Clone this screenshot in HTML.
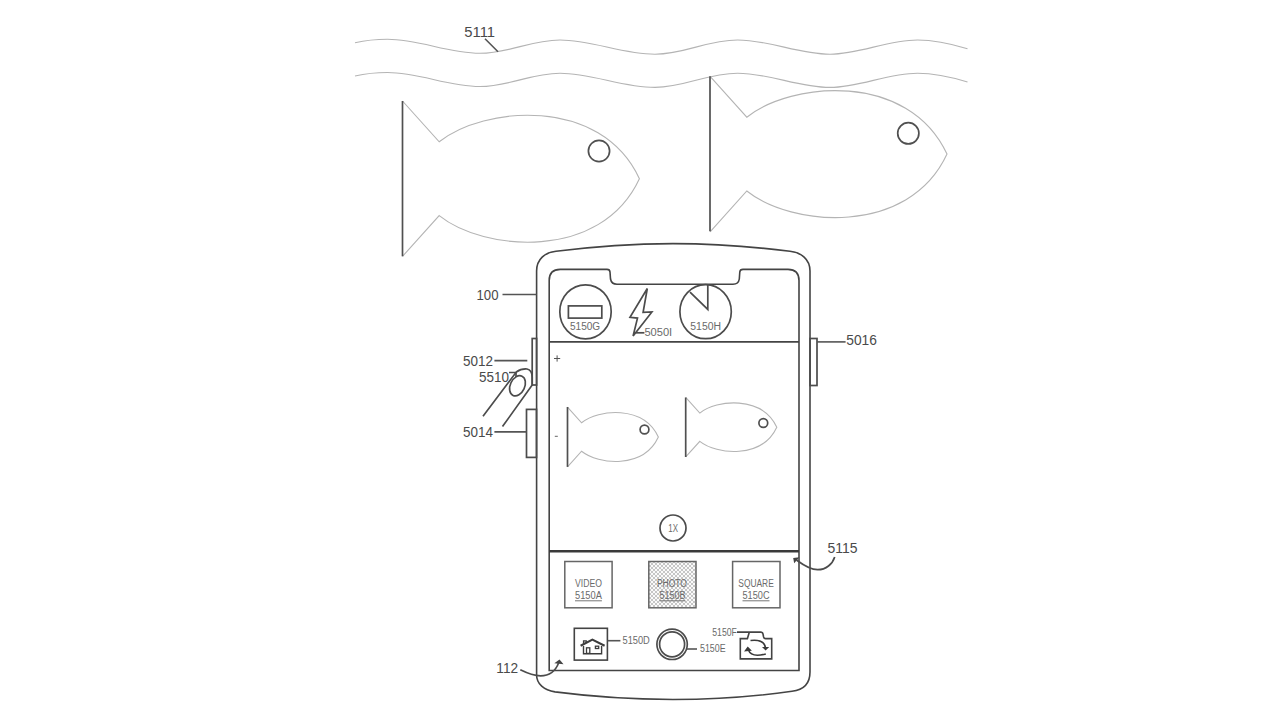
<!DOCTYPE html>
<html><head><meta charset="utf-8">
<style>
html,body{margin:0;padding:0;background:#fff;}
body{width:1280px;height:720px;overflow:hidden;font-family:"Liberation Sans",sans-serif;}
svg{display:block}
text{font-family:"Liberation Sans",sans-serif;}
.lbl{font-size:14px;fill:#4a4a4a;}
.sm{font-size:10px;fill:#6a6a6a;}
.dk{stroke:#444;fill:none;stroke-width:1.6;}
.md{stroke:#4c4c4c;fill:none;stroke-width:1.7;}
.fv{stroke:#505050;fill:none;stroke-width:1.7;}
.ey{stroke:#505050;fill:none;stroke-width:1.7;}
.lt{stroke:#b4b4b4;fill:none;stroke-width:1.1;}
.ld{stroke:#555;fill:none;stroke-width:1.6;}
</style></head><body>
<svg width="1280" height="720" viewBox="0 0 1280 720">
<defs>
<pattern id="hatch" width="4" height="4" patternUnits="userSpaceOnUse">
<rect width="4" height="4" fill="#fafafa"/>
<path d="M0,0 L4,4 M4,0 L0,4" stroke="#a6a6a6" stroke-width="0.62"/>
</pattern>
<path id="fish" vector-effect="non-scaling-stroke" d="M0,-77.7 L36.7,-36.9 C80.6,-72.2 198.2,-83.4 236.9,0 C198.2,83.4 80.6,72.2 36.7,36.9 L0,77.7"/>
</defs>
<rect width="1280" height="720" fill="#fff"/>

<!-- waves -->
<g class="lt">
<path id="wv" d="M355,42.8 C365,40.5 376,39.3 387.5,39.3 C420,39.3 447,53.3 480,53.3 C510,53.3 530,40 560,40 C592,40 622,54.2 655,54.2 C685,54.2 707,40 737.5,40 C770,40 798,54.2 830,54.2 C860,54.2 887,40 917.5,40 C935,40 952,44 967.5,48.75"/>
<path d="M355,42.8 C365,40.5 376,39.3 387.5,39.3 C420,39.3 447,53.3 480,53.3 C510,53.3 530,40 560,40 C592,40 622,54.2 655,54.2 C685,54.2 707,40 737.5,40 C770,40 798,54.2 830,54.2 C860,54.2 887,40 917.5,40 C935,40 952,44 967.5,48.75" transform="translate(0,33.2)"/>
</g>

<!-- big fish 1 -->
<use href="#fish" class="lt" transform="translate(402.5,178.7)"/>
<line x1="402.5" y1="101" x2="402.5" y2="256.3" class="fv"/>
<circle cx="599" cy="151" r="10.6" class="ey"/>
<!-- big fish 2 -->
<use href="#fish" class="lt" transform="translate(710.1,154.1)"/>
<line x1="710" y1="76.3" x2="710" y2="231.3" class="fv"/>
<circle cx="908.3" cy="133.3" r="10.6" class="ey"/>

<!-- phone body -->
<path class="dk" d="M536.6,271 C536.6,259 545,252.5 556,251.3 Q615,243.8 673,243.6 Q731,243.8 790,251.3 C801,252.5 810,259 810,271 L810,672 C810,684 803,690 792,691.3 Q735,699.3 673,699.5 Q612,699.3 555,691.9 C544,690 536.6,684 536.6,675 Z"/>
<path class="dk" d="M549.2,280.5 Q549.2,269.4 560.2,269.4 L607,269.4 Q609.8,269.4 610,272 L610.5,279 Q611.5,284.2 617,284.2 L733,284.2 Q738.5,284.2 739.3,279 L739.8,272 Q740,269.4 743,269.4 L788,269.4 Q799,269.4 799,280.5 L799,670.5 L549.2,670.5 Z"/>
<line x1="549.2" y1="341.9" x2="799" y2="341.9" class="dk"/>
<line x1="549.2" y1="551.3" x2="799" y2="551.3" stroke="#3a3a3a" stroke-width="2.4"/>

<!-- side buttons -->
<rect x="532.2" y="338.5" width="4.4" height="46.5" class="md"/>
<rect x="526.5" y="409.4" width="10" height="48" class="md"/>
<rect x="810" y="338.5" width="7" height="47" class="md"/>

<!-- top icons -->
<ellipse cx="585.5" cy="311.8" rx="25.7" ry="27" class="md"/>
<rect x="568.4" y="305.9" width="33.4" height="12.2" class="md"/>
<path class="md" d="M647.3,288.5 L630,317.3 L637.5,318.1 L633.1,336 L651.9,311.9 L643.1,312.3 Z"/>
<line x1="636" y1="332.8" x2="644.4" y2="332.8" class="md"/>
<ellipse cx="705.6" cy="311.7" rx="25.7" ry="27" class="md"/>
<path class="md" d="M707.8,285 L707.8,309.4 L690,292.1"/>

<!-- plus / minus -->
<path d="M554,358.5 H560.2 M557.1,355.4 V361.6" stroke="#555" stroke-width="1"/>
<path d="M554.8,436.3 H557.8" stroke="#666" stroke-width="1"/>

<!-- inner fish 1 -->
<use href="#fish" class="lt" transform="translate(567.5,437) scale(0.3835,0.3855)"/>
<line x1="567.5" y1="407" x2="567.5" y2="466.9" class="fv"/>
<circle cx="644.5" cy="429.5" r="4.4" class="ey"/>
<!-- inner fish 2 -->
<use href="#fish" class="lt" transform="translate(685.7,427.2) scale(0.3845,0.383)"/>
<line x1="685.7" y1="397.5" x2="685.7" y2="457" class="fv"/>
<circle cx="763.3" cy="423" r="4.4" class="ey"/>

<!-- 1X -->
<circle cx="673" cy="528" r="13" class="md"/>

<!-- mode boxes -->
<rect x="564.8" y="561.5" width="47.3" height="46.3" stroke="#666" stroke-width="1.5" fill="none"/>
<rect x="648.8" y="561.5" width="47.2" height="46.3" stroke="#666" stroke-width="1.5" fill="url(#hatch)"/>
<rect x="732.6" y="561.5" width="47.4" height="46.3" stroke="#666" stroke-width="1.5" fill="none"/>

<!-- home box -->
<rect x="574.3" y="628.3" width="33.1" height="31.8" class="dk" stroke-width="1.8"/>
<g stroke="#3c3c3c" fill="none" stroke-width="1.3">
<path d="M580.6,645.8 L592.4,639.6 L604.6,645.7" stroke-width="2.1"/>
<path d="M583.6,643.8 V640.9 H586.2 V642.6" stroke-width="1.4"/>
<path d="M583.5,646 V653.7 H601.6 V646" stroke-width="1.4"/>
<rect x="586.5" y="647.8" width="3.3" height="5.6"/>
<rect x="595.4" y="646.2" width="3.3" height="2.3"/>
</g>
<line x1="607.8" y1="640.7" x2="620.4" y2="640.7" class="ld"/>

<!-- shutter -->
<circle cx="672.1" cy="644.3" r="15.2" class="md" stroke-width="1.35"/>
<circle cx="672.1" cy="644.3" r="12.5" class="md" stroke-width="1.35"/>
<line x1="687" y1="649" x2="697" y2="649" class="ld"/>

<!-- camera flip -->
<path class="dk" d="M737,632.1 L761,632.1 Q762.6,632.2 763,634 L763.6,637 Q764,638.6 765.5,638.6 L771.7,638.6 L771.7,658.9 L740.3,658.9 L740.3,638.6 L747.4,638.6 L749.3,632.3"/>
<g stroke="#3a3a3a" fill="none" stroke-width="1.6">
<path d="M750.5,640.5 C758,639.6 764.5,641 765.5,648"/>
<path d="M765.8,653.9 C758,656 750.5,655.5 748.4,650"/>
</g>
<path d="M762,647 L769.2,647 L765.6,650.6 Z M747.7,646.6 L744,651.4 L751.9,650.8 Z" fill="#3a3a3a"/>

<!-- leaders for outer labels -->
<line x1="485" y1="38.8" x2="498" y2="51.8" class="ld"/>
<line x1="502.5" y1="294.5" x2="536.6" y2="294.5" class="ld"/>
<line x1="494.4" y1="360.6" x2="527.3" y2="360.6" class="ld"/>
<line x1="494.4" y1="431.9" x2="526.3" y2="431.9" class="ld"/>
<line x1="817" y1="341.9" x2="845.6" y2="341.9" class="ld"/>

<!-- finger -->
<path class="md" d="M483,416.3 L516.3,372 Q521,368.6 527,369 Q532,370 532.2,377 L532.2,385 L502.5,426.6"/>
<ellipse cx="517.5" cy="385.8" rx="7.2" ry="10.6" transform="rotate(25 517.5 385.8)" class="md"/>
<path class="md" d="M509,372.5 H516 V377" stroke-width="1"/>

<!-- arrows -->
<path class="md" d="M834.7,556.9 C832.5,564 826,569.8 817.5,569.7 C809,569.5 802,564 796.5,560"/>
<path d="M793.2,557.9 L799.4,557.3 L794.2,563.2 Z" fill="#444"/>
<path class="md" d="M520.3,669.7 C527,673 533,675.6 540.6,675.8 C549,675.8 555.5,671 558.6,663"/>
<path d="M559.5,659.6 L554.3,663.2 L563.5,664.2 Z" fill="#444"/>

<!-- TEXT -->
<g class="lbl">
<text x="464.3" y="36.8" textLength="30.7" lengthAdjust="spacingAndGlyphs">5111</text>
<text x="476.5" y="300.4" textLength="22" lengthAdjust="spacingAndGlyphs">100</text>
<text x="463.1" y="366" textLength="30" lengthAdjust="spacingAndGlyphs">5012</text>
<text x="479" y="381.5" textLength="30" lengthAdjust="spacingAndGlyphs">5510</text>
<text x="463.1" y="436.5" textLength="30" lengthAdjust="spacingAndGlyphs">5014</text>
<text x="846.3" y="345" textLength="30.6" lengthAdjust="spacingAndGlyphs">5016</text>
<text x="827.5" y="552.5" textLength="30" lengthAdjust="spacingAndGlyphs">5115</text>
<text x="496.3" y="672.9" textLength="21.8" lengthAdjust="spacingAndGlyphs">112</text>
</g>
<g class="sm">
<text x="570" y="329.8" textLength="30.2" lengthAdjust="spacingAndGlyphs">5150G</text>
<text x="644.4" y="336" textLength="27.8" lengthAdjust="spacingAndGlyphs">5050I</text>
<text x="690.3" y="330" textLength="30.7" lengthAdjust="spacingAndGlyphs">5150H</text>
<text x="668.3" y="531.8" textLength="9.7" lengthAdjust="spacingAndGlyphs">1X</text>
<text x="575" y="587.1" textLength="26.9" lengthAdjust="spacingAndGlyphs">VIDEO</text>
<text x="575" y="599.4" textLength="26.9" lengthAdjust="spacingAndGlyphs">5150A</text>
<text x="656.9" y="587.1" textLength="30" lengthAdjust="spacingAndGlyphs">PHOTO</text>
<text x="659.4" y="599.4" textLength="26" lengthAdjust="spacingAndGlyphs">5150B</text>
<text x="738.3" y="587.1" textLength="35.5" lengthAdjust="spacingAndGlyphs">SQUARE</text>
<text x="742.5" y="599.4" textLength="27" lengthAdjust="spacingAndGlyphs">5150C</text>
<text x="622.5" y="644" textLength="27.3" lengthAdjust="spacingAndGlyphs">5150D</text>
<text x="700" y="651.5" textLength="25.6" lengthAdjust="spacingAndGlyphs">5150E</text>
<text x="712.3" y="636.3" textLength="24.6" lengthAdjust="spacingAndGlyphs">5150F</text>
</g>
<g stroke="#666" stroke-width="0.9">
<line x1="575" y1="600.8" x2="601.9" y2="600.8"/>
<line x1="659.4" y1="600.8" x2="685.4" y2="600.8"/>
<line x1="742.5" y1="600.8" x2="769.5" y2="600.8"/>
</g>
</svg>
</body></html>
